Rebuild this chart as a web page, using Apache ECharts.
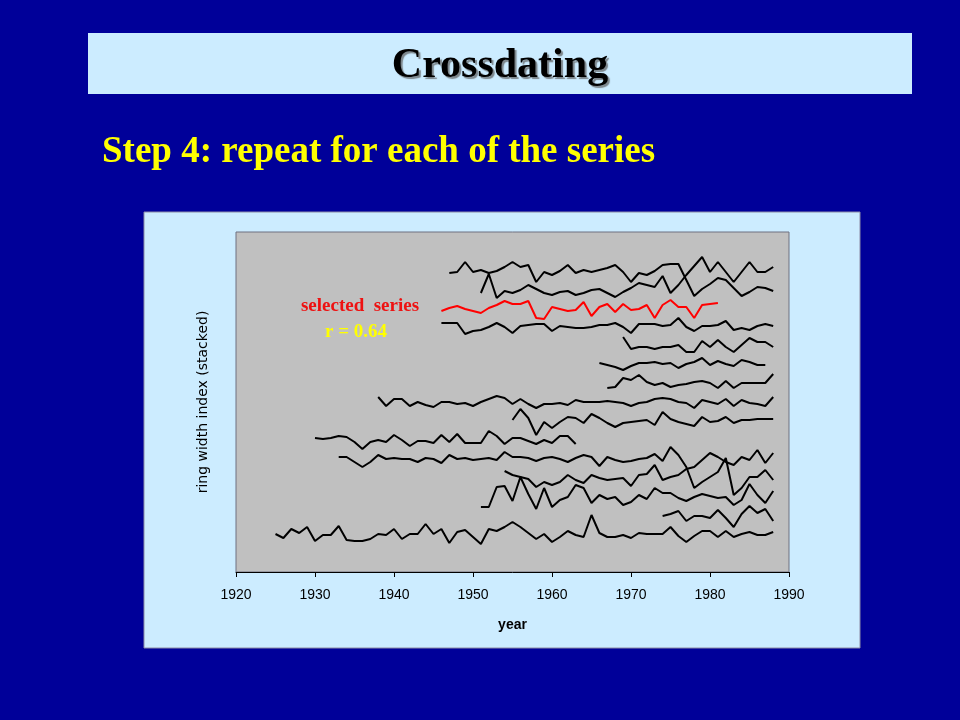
<!DOCTYPE html>
<html><head><meta charset="utf-8">
<script src="https://cdn.jsdelivr.net/npm/echarts@6.0.0/dist/echarts.min.js"></script>
<style>html,body{margin:0;padding:0;background:#000099}#c{width:960px;height:720px}</style>
</head><body><div id="c"></div>
<script>
// ---- text ----
const titleText = 'Crossdating';
const stepText = 'Step 4: repeat for each of the series';
const selectedLabel = 'selected  series';
const corrLabel = 'r = 0.64';
const xAxisName = 'year';
const yAxisName = 'ring width index (stacked)';
const xTickYears = [1920, 1930, 1940, 1950, 1960, 1970, 1980, 1990];

// ---- series: first year and yearly stacked ring-width index ----
const startYears = [1947, 1951, 1946, 1946, 1969, 1966, 1967, 1938, 1955, 1930, 1933, 1954, 1951, 1974, 1925];
const selectedIndex = 2;

const s01 = [29.9,30.0,31.0,30.0,30.2,29.9,30.1,30.5,31.0,30.5,30.7,29.0,30.0,29.7,30.1,30.7,29.9,30.2,30.0,30.2,30.4,30.7,30.0,29.0,29.9,29.7,30.1,30.7,30.8,30.8,29.2,27.6,28.3,28.8,29.4,29.2,28.4,27.6,28.0,28.5,28.4,28.1];
const s02 = [27.9,29.8,27.4,28.1,27.9,28.2,28.7,28.3,27.9,27.7,28.0,28.1,27.7,27.9,28.2,28.3,27.9,27.5,28.0,28.4,28.9,28.7,28.5,29.6,27.9,28.7,29.7,30.6,31.5,30.0,31.0,30.0,29.0,30.0,31.0,30.0,30.0,30.5];
const s03 = [26.1,26.4,26.6,26.3,26.1,25.9,26.4,26.7,27.1,26.8,26.8,27.1,25.4,25.3,26.5,26.3,26.1,26.2,27.0,25.6,26.5,26.8,26.0,26.8,26.2,26.3,26.7,25.4,26.7,27.2,26.5,26.5,25.4,26.7,26.8,26.9];
const s04 = [24.9,24.9,24.9,23.8,24.1,24.2,24.5,24.9,24.5,23.9,24.6,24.7,24.8,24.8,24.1,24.6,24.5,24.4,24.4,24.5,24.7,24.7,24.9,24.5,23.9,24.8,24.8,24.8,24.6,24.7,25.4,24.5,24.1,24.6,24.6,24.7,25.1,24.2,24.4,24.2,24.6,24.8,24.6];
const s05 = [23.5,22.3,22.5,22.5,22.3,22.5,22.5,22.7,22.0,22.0,23.1,22.5,23.2,22.5,22.0,22.7,23.4,23.0,23.0,22.5];
const s06 = [20.9,20.7,20.5,20.2,20.6,20.9,20.9,21.0,20.8,20.9,20.4,20.8,21.0,21.4,20.7,21.1,20.8,20.6,21.2,21.0,20.7,20.7];
const s07 = [18.4,18.5,19.4,19.2,19.7,19.0,18.7,18.9,18.5,18.7,18.8,19.0,19.1,18.9,18.4,19.1,18.4,18.9,18.9,18.9,18.9,19.8];
const s08 = [17.5,16.6,17.3,17.3,16.6,17.0,16.7,16.5,17.0,17.0,16.8,16.9,16.6,17.0,17.3,17.6,17.4,16.8,17.3,16.8,16.4,16.8,16.8,16.9,16.7,17.2,17.0,17.0,17.0,17.1,17.0,16.9,16.6,16.9,17.0,17.3,17.4,17.3,17.0,16.9,16.4,17.2,17.0,16.8,17.3,16.6,17.2,16.9,16.8,16.6,17.5];
const s09 = [15.2,16.3,15.4,13.7,15.0,14.4,15.0,15.5,15.4,14.9,15.8,15.4,14.9,14.5,14.9,15.0,15.1,15.2,14.7,16.0,15.3,15.0,14.8,14.6,15.5,15.0,15.1,15.5,14.9,15.2,15.2,15.3,15.3,15.3];
const s10 = [13.4,13.3,13.4,13.6,13.5,13.0,12.3,13.0,13.2,13.0,13.7,13.2,12.6,13.1,13.1,12.9,13.7,13.0,13.8,12.9,12.9,12.9,14.1,13.6,12.8,13.4,13.4,13.1,12.8,13.2,12.9,13.6,13.6,12.8];
const s11 = [11.5,11.5,11.0,10.5,11.0,11.7,11.3,11.4,11.3,11.3,11.0,11.4,11.3,10.9,11.7,11.3,11.4,11.2,11.3,11.4,11.2,12.0,11.5,11.5,11.4,11.1,11.4,11.5,11.3,11.0,11.4,11.7,11.5,10.6,11.5,11.2,11.0,11.1,11.3,11.4,11.8,11.1,12.5,11.7,10.5,8.4,9.0,9.5,10.0,11.4,7.7,8.4,9.5,9.5,10.2,9.2];
const s12 = [10.1,9.7,9.5,9.3,8.5,9.0,8.7,9.0,9.7,9.2,8.9,9.7,9.4,9.2,9.3,9.4,8.6,9.7,9.8,10.7,9.2,9.5,9.7,10.3,10.5,11.2,11.9,11.5,11.0,10.7,11.5,11.2,12.2,10.9,11.9];
const s13 = [6.5,6.5,8.5,8.6,7.1,9.5,7.8,6.3,8.4,6.5,7.2,7.5,8.7,8.4,6.9,7.7,7.3,7.5,6.7,7.0,7.7,7.3,8.4,7.9,7.9,7.4,7.1,7.5,7.8,7.6,7.4,7.5,6.7,7.2,8.8,7.7,6.9,8.1];
const s14 = [5.6,5.8,6.1,5.1,5.6,5.6,5.4,6.2,5.4,4.5,5.8,6.6,5.9,6.3,5.1];
const s15 = [3.8,3.4,4.3,3.9,4.5,3.1,3.7,3.7,4.6,3.2,3.1,3.1,3.3,3.8,3.7,4.3,3.3,3.8,3.8,4.8,3.8,4.3,2.9,4.0,4.2,3.5,2.8,4.3,4.1,4.5,5.0,4.5,3.9,3.3,3.8,3.0,3.5,4.1,3.7,3.5,5.7,3.9,3.5,3.5,3.7,3.4,3.9,3.8,3.8,3.8,4.5,3.6,3.0,3.6,4.1,4.1,3.5,4.1,3.5,3.8,4.0,3.7,3.7,4.0];

const allSeries = [s01,s02,s03,s04,s05,s06,s07,s08,s09,s10,s11,s12,s13,s14,s15];

const chart = echarts.init(document.getElementById('c'), null, {renderer: 'canvas', width: 960, height: 720});

const lineSeries = allSeries.map((vals, k) => ({
  type: 'line',
  name: 'series ' + (k + 1),
  data: vals.map((v, i) => [startYears[k] + i, v]),
  showSymbol: false,
  symbol: 'none',
  lineStyle: {width: 2, color: k === selectedIndex ? '#ff0000' : '#000000'},
  itemStyle: {color: k === selectedIndex ? '#ff0000' : '#000000'},
  z: k === selectedIndex ? 5 : 3,
  silent: true
}));

const option = {
  animation: false,
  backgroundColor: '#000099',
  grid: {
    left: 236, top: 232, width: 553, height: 340,
    show: true, backgroundColor: '#c0c0c0', borderColor: '#6f7080', borderWidth: 1,
    containLabel: false
  },
  xAxis: {
    type: 'value', min: 1920, max: 1990, interval: 10,
    name: xAxisName, nameLocation: 'middle', nameGap: 46,
    nameTextStyle: {fontFamily: 'Liberation Sans, Arial', fontSize: 14, fontWeight: 'bold', color: '#000'},
    axisLine: {show: true, onZero: false, lineStyle: {color: '#000', width: 1}},
    axisTick: {show: true, inside: false, length: 5, lineStyle: {color: '#000'}},
    axisLabel: {fontFamily: 'Liberation Sans, Arial', fontSize: 14, color: '#000', margin: 16,
      formatter: v => xTickYears.includes(v) ? String(v) : ''},
    splitLine: {show: false}
  },
  yAxis: {
    type: 'value', min: 0, max: 34,
    name: yAxisName, nameLocation: 'middle', nameGap: 26, nameRotate: 90,
    nameTextStyle: {fontFamily: 'DejaVu Sans', fontSize: 14, color: '#000'},
    axisLine: {show: false}, axisTick: {show: false}, axisLabel: {show: false}, splitLine: {show: false}
  },
  graphic: [
    {type: 'rect', z: -10, shape: {x: 88, y: 33, width: 824, height: 61}, style: {fill: '#ccecff'}},
    {type: 'text', z: 10, x: 500, y: 66, style: {
      text: titleText, fontFamily: 'Liberation Serif, Times New Roman', fontWeight: 'bold', fontSize: 42,
      fill: '#000', align: 'center', verticalAlign: 'middle',
      textShadowColor: 'rgba(90,90,90,0.7)', textShadowOffsetX: 2, textShadowOffsetY: 2, textShadowBlur: 1}},
    {type: 'text', z: 10, x: 102, y: 152, style: {
      text: stepText, fontFamily: 'Liberation Serif, Times New Roman', fontWeight: 'bold', fontSize: 37,
      fill: '#ffff00', align: 'left', verticalAlign: 'middle'}},
    {type: 'rect', z: -10, shape: {x: 144, y: 212, width: 716, height: 436}, style: {fill: '#ccecff', stroke: '#8c8ca6', lineWidth: 1}},
    {type: 'text', z: 10, x: 360, y: 306, style: {
      text: selectedLabel, fontFamily: 'Liberation Serif, Times New Roman', fontWeight: 'bold', fontSize: 19,
      fill: '#ee1111', align: 'center', verticalAlign: 'middle',
      textShadowColor: 'rgba(80,60,60,0.8)', textShadowOffsetX: 1.5, textShadowOffsetY: 1.5}},
    {type: 'text', z: 10, x: 356, y: 332, style: {
      text: corrLabel, fontFamily: 'Liberation Serif, Times New Roman', fontWeight: 'bold', fontSize: 19,
      fill: '#ffff00', align: 'center', verticalAlign: 'middle',
      textShadowColor: 'rgba(80,80,60,0.8)', textShadowOffsetX: 1.5, textShadowOffsetY: 1.5}}
  ],
  series: lineSeries
};
chart.setOption(option);
</script>
</body></html>
